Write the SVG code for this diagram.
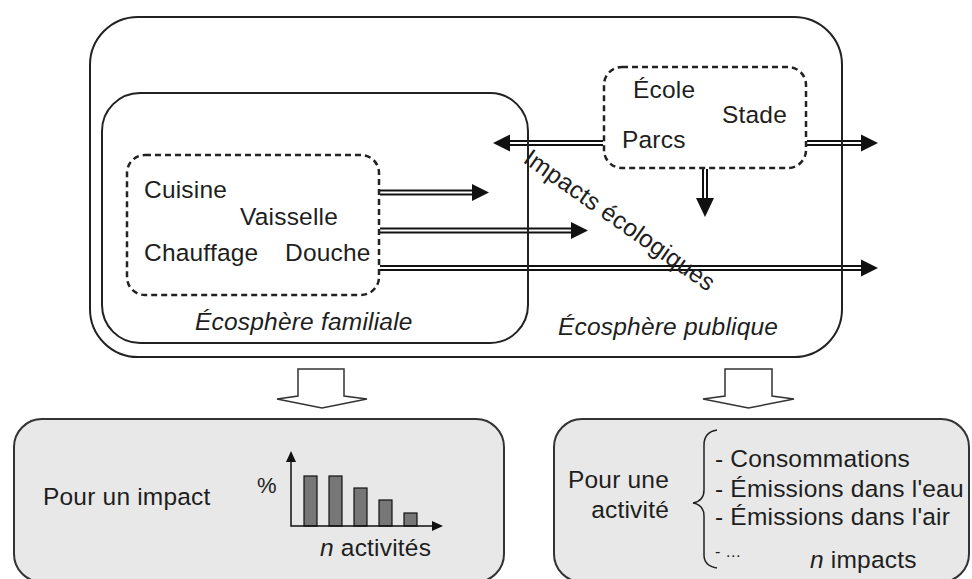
<svg xmlns="http://www.w3.org/2000/svg" width="972" height="579" viewBox="0 0 972 579">
<style>
text{font-family:"Liberation Sans",Arial,sans-serif;font-size:24.5px;letter-spacing:0.2px;fill:#1e1e1e}
.it{font-style:italic}
.box{fill:none;stroke:#222;stroke-width:2}
.dash{fill:none;stroke:#222;stroke-width:2.5;stroke-dasharray:6 4}
.res{fill:#e8e8e8;stroke:#333;stroke-width:2}
.dl-o{stroke:#111;stroke-width:6;fill:none}
.dl-i{stroke:#fff;stroke-width:2;fill:none}
.head{fill:#111}
.hollow{fill:#fff;stroke:#333;stroke-width:1.5}
.bar{fill:#777;stroke:#111;stroke-width:1.2}
.ax{stroke:#111;stroke-width:1.5;fill:none}
</style>
<rect width="972" height="579" fill="#fff"/>

<g id="connectors">
  <g id="arr-fam-1">
    <line class="dl-o" x1="380" y1="192.5" x2="474" y2="192.5"/>
    <line class="dl-i" x1="380" y1="192.5" x2="474" y2="192.5"/>
    <polygon class="head" points="472,184 489,192.5 472,201"/>
  </g>
  <g id="arr-fam-2">
    <line class="dl-o" x1="380" y1="230.5" x2="573" y2="230.5"/>
    <line class="dl-i" x1="380" y1="230.5" x2="573" y2="230.5"/>
    <polygon class="head" points="571,222 588,230.5 571,239"/>
  </g>
  <g id="arr-fam-3">
    <line class="dl-o" x1="380" y1="268" x2="863" y2="268"/>
    <line class="dl-i" x1="380" y1="268" x2="863" y2="268"/>
    <polygon class="head" points="861,259.5 878,268 861,276.5"/>
  </g>
  <g id="arr-pub-left">
    <line class="dl-o" x1="603" y1="143" x2="508" y2="143"/>
    <line class="dl-i" x1="603" y1="143" x2="508" y2="143"/>
    <polygon class="head" points="510,134.5 493,143 510,151.5"/>
  </g>
  <g id="arr-pub-right">
    <line class="dl-o" x1="807" y1="143" x2="863" y2="143"/>
    <line class="dl-i" x1="807" y1="143" x2="863" y2="143"/>
    <polygon class="head" points="861,134.5 878,143 861,151.5"/>
  </g>
  <g id="arr-pub-down">
    <line class="dl-o" x1="705" y1="169" x2="705" y2="200"/>
    <line class="dl-i" x1="705" y1="169" x2="705" y2="200"/>
    <polygon class="head" points="696,198 705,217 714,198"/>
  </g>
  <g id="hollow-left">
    <path class="hollow" d="M298,369 H344 V396 L367,399 L322,408 L277,399 L298,396 Z"/>
  </g>
  <g id="hollow-right">
    <path class="hollow" d="M725,369 H772 V396 L794,399 L748.5,408 L703,399 L725,396 Z"/>
  </g>
</g>

<g id="ecosphere-publique">
  <rect class="box" x="90" y="17" width="752" height="340" rx="48" ry="48"/>
  <text class="it" x="558" y="335">Écosphère publique</text>
</g>

<g id="ecosphere-familiale">
  <rect class="box" x="102" y="93" width="426" height="250" rx="38" ry="38"/>
  <text class="it" x="195" y="330">Écosphère familiale</text>
</g>

<g id="activites-familiales">
  <rect class="dash" x="127" y="155" width="252" height="140" rx="18" ry="18"/>
  <text x="144" y="198">Cuisine</text>
  <text x="240" y="225">Vaisselle</text>
  <text x="144" y="261">Chauffage</text>
  <text x="285" y="261">Douche</text>
</g>

<g id="activites-publiques">
  <rect class="dash" x="604" y="67" width="202" height="101" rx="18" ry="18"/>
  <text x="633" y="98">École</text>
  <text x="722" y="123">Stade</text>
  <text x="622" y="148">Parcs</text>
</g>

<g id="label-impacts">
  <text x="615" y="227" text-anchor="middle" transform="rotate(35 615 227)">Impacts écologiques</text>
</g>

<g id="pour-un-impact">
  <rect class="res" x="14" y="419" width="490" height="163" rx="28" ry="28"/>
  <text x="43" y="505">Pour un impact</text>
  <text x="257" y="493" style="font-size:22px">%</text>
  <rect class="bar" x="304" y="476" width="13" height="50"/>
  <rect class="bar" x="329" y="476" width="13" height="50"/>
  <rect class="bar" x="354" y="488" width="13" height="38"/>
  <rect class="bar" x="379" y="500" width="13" height="26"/>
  <rect class="bar" x="404" y="513" width="13" height="13"/>
  <polyline class="ax" points="291,460 291,526 434,526"/>
  <polygon class="head" points="286,462 291,451 296,462"/>
  <polygon class="head" points="432,521 443,526 432,531"/>
  <text x="320" y="556"><tspan class="it">n</tspan> activités</text>
</g>

<g id="pour-une-activite">
  <rect class="res" x="554" y="419" width="415" height="163" rx="28" ry="28"/>
  <text x="669" y="488" text-anchor="end">Pour une</text>
  <text x="669" y="518" text-anchor="end">activité</text>
  <path d="M717,430 Q704,432 704,445 V490 Q704,501 693,503 Q704,505 704,516 V555 Q704,566 717,568" fill="none" stroke="#222" stroke-width="1.5"/>
  <text x="715" y="467">- Consommations</text>
  <text x="715" y="497">- Émissions dans l'eau</text>
  <text x="715" y="525">- Émissions dans l'air</text>
  <text x="715" y="557" style="font-size:16px">- …</text>
  <text x="810" y="568"><tspan class="it">n</tspan> impacts</text>
</g>
</svg>
